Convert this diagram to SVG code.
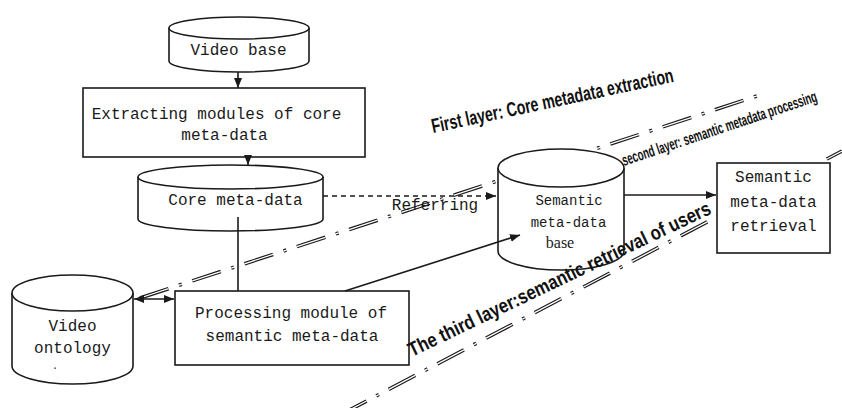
<svg xmlns="http://www.w3.org/2000/svg" width="842" height="408" viewBox="0 0 842 408">
<style>
.shape{fill:#fff;stroke:#1a1a1a;stroke-width:1.6}
.lbl{font-family:"Liberation Mono","DejaVu Sans Mono",monospace;font-size:16px;fill:#1a1a1a;text-anchor:middle}
.sm{font-size:14px}
.serif{font-family:"Liberation Serif","Times New Roman",serif}
.conn{fill:none;stroke:#1a1a1a;stroke-width:1.6}
.dash{stroke-dasharray:5 4}
.layerA{fill:none;stroke:#1a1a1a;stroke-width:3.6;stroke-dasharray:30 11 3 11}
.layerB{fill:none;stroke:#fff;stroke-width:1.3;stroke-dasharray:30 11 3 11}
.layertxt{font-family:"Liberation Sans","DejaVu Sans",sans-serif;font-weight:bold;fill:#111}
</style>
<defs>
<marker id="ah" viewBox="0 0 10 8" refX="10" refY="4" markerWidth="10" markerHeight="8" markerUnits="userSpaceOnUse" orient="auto-start-reverse">
<path d="M0,0 L10,4 L0,8 z" fill="#1a1a1a"/>
</marker>
</defs>

<g id="layers">
<path class="layerA" d="M140,298 L760,95"/>
<path class="layerB" d="M140,298 L760,95"/>
<path class="layerA" d="M340,415 L842,151"/>
<path class="layerB" d="M340,415 L842,151"/>
</g>

<g id="video-base">
<path class="shape" d="M169,28 V61 A70,11 0 0 0 309,61 V28"/>
<ellipse class="shape" cx="239" cy="28" rx="70" ry="11"/>
<text class="lbl" x="238.5" y="55">Video base</text>
</g>

<g id="extracting-module">
<rect class="shape" x="83" y="88" width="282" height="69"/>
<text class="lbl" x="216.5" y="119">Extracting modules of core</text>
<text class="lbl" x="224.5" y="140">meta-data</text>
</g>

<g id="core-metadata">
<path class="shape" d="M138,177 V219 A92.5,12 0 0 0 323,219 V177"/>
<ellipse class="shape" cx="230.5" cy="177" rx="92.5" ry="12"/>
<text class="lbl" x="235.5" y="205">Core meta-data</text>
</g>

<g id="video-ontology">
<path class="shape" d="M12,293 V366 A60.5,18 0 0 0 133,366 V293"/>
<ellipse class="shape" cx="72.5" cy="293" rx="60.5" ry="18"/>
<text class="lbl" x="72.5" y="331">Video</text>
<text class="lbl" x="72.5" y="353">ontology</text>
<text class="lbl" x="55" y="369" style="font-size:10px">.</text>
</g>

<g id="processing-module">
<rect class="shape" x="175" y="291" width="234" height="74"/>
<text class="lbl" x="291" y="318">Processing module of</text>
<text class="lbl" x="292" y="341">semantic meta-data</text>
</g>

<g id="semantic-base">
<path class="shape" d="M498,168 V251 A63,19 0 0 0 624,251 V168"/>
<ellipse class="shape" cx="561" cy="168" rx="63" ry="19"/>
<text class="lbl sm" x="569" y="205">Semantic</text>
<text class="lbl sm" x="568.5" y="227">meta-data</text>
<text class="lbl serif" x="560" y="248">base</text>
</g>

<g id="semantic-retrieval">
<rect class="shape" x="717" y="163" width="113" height="90"/>
<text class="lbl" x="773.5" y="182">Semantic</text>
<text class="lbl" x="773.5" y="207">meta-data</text>
<text class="lbl" x="773.5" y="231">retrieval</text>
</g>

<g id="connectors">
<line class="conn" x1="238" y1="72" x2="238" y2="88" marker-end="url(#ah)"/>
<line class="conn" x1="248" y1="157" x2="248" y2="165" marker-end="url(#ah)"/>
<line class="conn dash" x1="323" y1="196" x2="496" y2="196" marker-end="url(#ah)"/>
<line class="conn" x1="238" y1="217" x2="238" y2="291"/>
<line class="conn" x1="134" y1="299" x2="174" y2="299" marker-start="url(#ah)" marker-end="url(#ah)"/>
<line class="conn" x1="345" y1="291" x2="520" y2="235" marker-end="url(#ah)"/>
<line class="conn" x1="624" y1="195" x2="716" y2="195" marker-end="url(#ah)"/>
<text class="lbl" x="435" y="210">Referring</text>
</g>

<g id="layer-labels">
<text class="layertxt" x="433" y="133" font-size="20" textLength="247" lengthAdjust="spacingAndGlyphs" transform="rotate(-12 433 133)">First layer: Core metadata extraction</text>
<text class="layertxt" x="0" y="0" font-size="16" textLength="353" lengthAdjust="spacingAndGlyphs" transform="translate(624 166) rotate(-18.5) scale(0.58 1)">second layer: semantic metadata processing</text>
<text class="layertxt" x="412" y="357" font-size="20" textLength="333" lengthAdjust="spacingAndGlyphs" transform="rotate(-25.6 412 357)">The third layer:semantic retrieval of users</text>
</g>
</svg>
